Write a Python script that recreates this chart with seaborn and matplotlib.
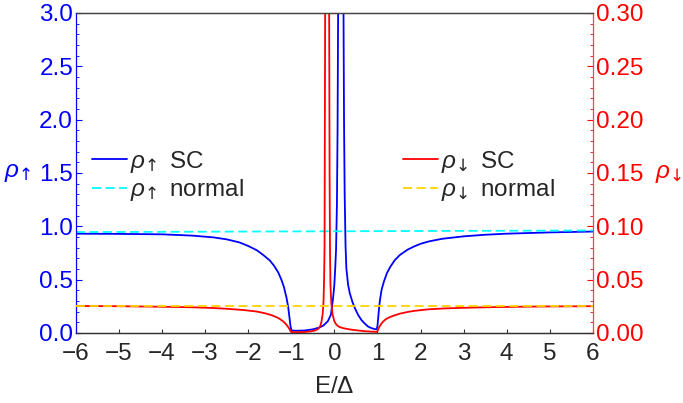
import numpy as np
import seaborn as sns
import matplotlib
matplotlib.use("Agg")
import matplotlib.pyplot as plt
from matplotlib.ticker import MultipleLocator, FormatStrFormatter

# spin-up DOS, superconducting state (left axis)
E_up = [-6.0, -5.0, -4.0, -3.3, -2.8, -2.5, -2.2, -2.0, -1.8, -1.65, -1.5, -1.4,
        -1.3, -1.23, -1.17, -1.11, -1.07, -1.04, -1.02, -1.0, -0.98, -0.9, -0.7,
        -0.5, -0.35, -0.25, -0.15, -0.08, -0.03, 0.0, 0.02, 0.04, 0.06, 0.075,
        0.088, 0.1, 0.12, 0.15, 0.18, 0.2, 0.213, 0.225, 0.24, 0.26, 0.28, 0.32,
        0.36, 0.42, 0.48, 0.55, 0.63, 0.7, 0.78, 0.86, 0.94, 0.98, 1.0, 1.02,
        1.04, 1.06, 1.1, 1.15, 1.22, 1.3, 1.4, 1.52, 1.7, 1.85, 2.0, 2.2, 2.5,
        3.0, 3.5, 4.0, 5.0, 6.0]
rho_up = [0.93, 0.928, 0.924, 0.912, 0.895, 0.877, 0.848, 0.815, 0.775, 0.73,
          0.68, 0.63, 0.565, 0.5, 0.43, 0.33, 0.24, 0.14, 0.07, 0.03, 0.022,
          0.02, 0.022, 0.033, 0.05, 0.07, 0.11, 0.17, 0.32, 0.45, 0.6, 0.78,
          1.2, 1.9, 3.0, 4.2, 6.5, 8.0, 6.5, 4.2, 3.0, 2.0, 1.3, 0.82, 0.6,
          0.45, 0.37, 0.29, 0.23, 0.17, 0.12, 0.09, 0.06, 0.045, 0.035, 0.035,
          0.06, 0.15, 0.24, 0.31, 0.41, 0.48, 0.56, 0.62, 0.68, 0.73, 0.78,
          0.81, 0.835, 0.858, 0.882, 0.905, 0.92, 0.93, 0.942, 0.95]

# spin-down DOS, superconducting state (right axis)
E_dn = [-6.0, -5.0, -4.0, -3.3, -2.8, -2.5, -2.1, -1.8, -1.6, -1.45, -1.33,
        -1.25, -1.18, -1.12, -1.07, -1.04, -1.02, -1.0, -0.9, -0.7, -0.55,
        -0.45, -0.38, -0.33, -0.3, -0.27, -0.25, -0.238, -0.227, -0.213, -0.2,
        -0.185, -0.167, -0.15, -0.135, -0.12, -0.11, -0.1, -0.09, -0.07, -0.04,
        0.0, 0.05, 0.12, 0.2, 0.28, 0.4, 0.52, 0.7, 0.85, 0.98, 1.0, 1.02, 1.05,
        1.09, 1.13, 1.2, 1.29, 1.4, 1.52, 1.7, 1.83, 2.0, 2.22, 2.6, 3.0, 3.5,
        3.76, 4.5, 5.0, 6.0]
rho_dn = [0.0252, 0.025, 0.0245, 0.024, 0.0233, 0.0226, 0.0214, 0.02, 0.0183,
          0.0165, 0.0145, 0.0127, 0.0105, 0.008, 0.0055, 0.0035, 0.0018, 0.0008,
          0.0006, 0.0008, 0.0014, 0.0022, 0.0035, 0.006, 0.01, 0.018, 0.03,
          0.05, 0.08, 0.3, 0.45, 0.65, 0.8, 0.65, 0.45, 0.3, 0.15, 0.075, 0.045,
          0.028, 0.017, 0.011, 0.0075, 0.0055, 0.0045, 0.0038, 0.003, 0.0024,
          0.0016, 0.0012, 0.001, 0.0015, 0.0035, 0.006, 0.0085, 0.0105, 0.013,
          0.0148, 0.0165, 0.018, 0.0196, 0.0205, 0.0213, 0.0222, 0.023, 0.0235,
          0.024, 0.0242, 0.0246, 0.0248, 0.025]

# normal state
E_norm = [-6.0, 6.0]
rho_up_norm = [0.945, 0.96]
rho_dn_norm = [0.0255, 0.0255]

sns.set_style("white")
plt.rcParams['font.family'] = ['Liberation Sans', 'DejaVu Sans']
plt.rcParams['mathtext.fontset'] = 'custom'
plt.rcParams['mathtext.rm'] = 'Liberation Sans'
plt.rcParams['mathtext.it'] = 'Liberation Sans:italic'
plt.rcParams['mathtext.sf'] = 'DejaVu Sans'

fs = 17.5
up = r'$\rho_{\!\mathsf{\uparrow}}$'
dn = r'$\rho_{\!\mathsf{\downarrow}}$'

fig = plt.figure(figsize=(6.83, 4.03), dpi=100)
ax = fig.add_axes([0.111, 0.174, 0.757, 0.794])
ax2 = ax.twinx()

sns.lineplot(x=E_up, y=rho_up, ax=ax, color='blue', lw=1.3, label=up + ' SC')
sns.lineplot(x=E_norm, y=rho_up_norm, ax=ax, color='cyan', lw=1.3,
             linestyle=(0, (5, 2.5)), label=up + ' normal')
sns.lineplot(x=E_dn, y=rho_dn, ax=ax2, color='red', lw=1.3, label=dn + ' SC')
sns.lineplot(x=E_norm, y=rho_dn_norm, ax=ax2, color='#FFD200', lw=1.3,
             linestyle=(0, (5, 2.5)), label=dn + ' normal')

ax.set_xlim(-6, 6)
ax.set_ylim(0, 3.0)
ax2.set_ylim(0, 0.3)

ax.xaxis.set_major_locator(MultipleLocator(1))
ax.yaxis.set_major_locator(MultipleLocator(0.5))
ax.yaxis.set_minor_locator(MultipleLocator(0.1))
ax.yaxis.set_major_formatter(FormatStrFormatter('%.1f'))
ax2.yaxis.set_major_locator(MultipleLocator(0.05))
ax2.yaxis.set_minor_locator(MultipleLocator(0.01))
ax2.yaxis.set_major_formatter(FormatStrFormatter('%.2f'))

ax.tick_params(axis='x', direction='in', length=3, width=0.8, color='#333333',
               labelsize=fs, pad=7, bottom=True)
ax.tick_params(axis='y', which='major', direction='in', length=4, width=0.8,
               color='blue', labelcolor='blue', labelsize=fs, pad=2, left=True)
ax.tick_params(axis='y', which='minor', direction='in', length=2, width=0.6,
               color='blue', left=True)
ax2.tick_params(axis='y', which='major', direction='in', length=4, width=0.8,
                color='red', labelcolor='red', labelsize=fs, pad=2, right=True)
ax2.tick_params(axis='y', which='minor', direction='in', length=2, width=0.6,
                color='red', right=True)

for a in (ax, ax2):
    for s in a.spines.values():
        s.set_linewidth(0.9)
ax.spines['left'].set_color('blue')
ax2.spines['left'].set_visible(False)
ax2.spines['right'].set_color('#ff4444')
ax.spines['right'].set_visible(False)
ax.spines['top'].set_color('#444444')
ax2.spines['top'].set_color('#444444')
ax.spines['bottom'].set_color('#333333')
ax2.spines['bottom'].set_color('#333333')

ax.set_xlabel(r'E/$\Delta$', fontsize=fs, labelpad=8)
ax.set_ylabel(up, fontsize=fs, color='blue', rotation=0,
              ha='center', va='center')
ax.yaxis.set_label_coords(-0.112, 0.5)
ax2.set_ylabel(dn, fontsize=fs, color='red', rotation=0,
               ha='center', va='center')
ax2.yaxis.set_label_coords(1.147, 0.495)

ax.legend(loc='center left', bbox_to_anchor=(0.031, 0.49), frameon=False,
          fontsize=fs, handlelength=1.45, handletextpad=0.12, labelspacing=0.1,
          borderpad=0, borderaxespad=0)
ax2.legend(loc='center left', bbox_to_anchor=(0.632, 0.49), frameon=False,
           fontsize=fs, handlelength=1.45, handletextpad=0.12, labelspacing=0.1,
           borderpad=0, borderaxespad=0)

fig.savefig('out.png', dpi=100)
